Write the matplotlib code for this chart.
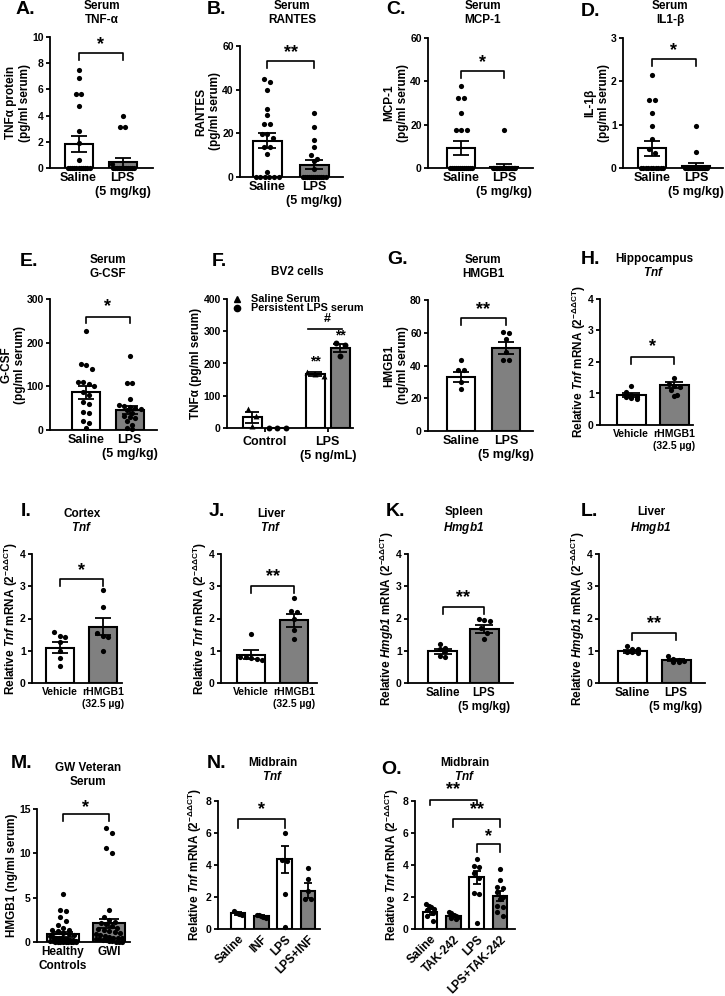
import numpy as np
import matplotlib
matplotlib.use('Agg')
import matplotlib.pyplot as plt

plt.rcParams.update({
    'font.family': ['Liberation Sans', 'DejaVu Sans'],
    'font.weight': 'bold',
    'axes.labelweight': 'bold',
    'mathtext.fontset': 'custom',
    'mathtext.rm': 'Liberation Sans:bold',
    'mathtext.it': 'Liberation Sans:italic:bold',
    # \mathbf is used for the italic gene names (keeps digits italic too)
    'mathtext.bf': 'Liberation Sans:italic:bold',
    'mathtext.sf': 'Liberation Sans:bold',
})

W, H = 725, 996
WHITE, GRAY = 'white', '#808080'

# ---- data ----
# A. serum TNF-alpha
tnfa_mean = [1.85, 0.45]
tnfa_sem = [0.63, 0.35]
tnfa_saline = [7.5, 6.85, 5.65, 5.65, 4.7, 2.8, 1.9, 0.6] + [0] * 11
tnfa_lps = [3.95, 3.15, 3.15, 0.3] + [0] * 12

# B. serum RANTES
rantes_mean = [16.6, 5.6]
rantes_sem = [3.4, 2.1]
rantes_saline = [44.7, 43.4, 39.7, 31.3, 28.2, 24.1, 24.1, 19.8, 19.8, 18.0,
                 13.7, 13.7, 10.4, 2.3] + [0] * 6
rantes_lps = [29.5, 22.9, 17.1, 13.7, 9.9, 8.4, 7.5, 3.8] + [0] * 12

# C. serum MCP-1
mcp_mean = [9.3, 0.6]
mcp_sem = [3.2, 1.1]
mcp_saline = [38, 32.3, 32.3, 25.4, 17.7, 17.7, 17.7] + [0] * 12
mcp_lps = [17.5] + [0] * 16

# D. serum IL-1beta
il1b_mean = [0.45, 0.05]
il1b_sem = [0.17, 0.07]
il1b_saline = [2.15, 1.56, 1.56, 1.27, 0.96, 0.68, 0.43, 0.35] + [0] * 10
il1b_lps = [0.96, 0.37] + [0] * 14

# E. serum G-CSF
gcsf_mean = [86, 46]
gcsf_sem = [14, 10]
gcsf_saline = [226, 151, 149, 140, 109, 109, 106, 100, 88, 80, 65, 60, 42, 38, 20, 15, 5]
gcsf_lps = [170, 108, 108, 72, 58, 55, 52, 50, 47, 45, 40, 32, 30, 28, 20, 12, 5, 3]

# F. BV2 cells TNF-alpha
bv2_groups = ['Control', 'LPS\n(5 ng/mL)']
bv2_sal_mean = [33, 168]
bv2_sal_sem = [17, 7]
bv2_lps_mean = [0, 248]
bv2_lps_sem = [0, 13]
bv2_sal_pts = [[58, 38, 5], [175, 168, 160]]
bv2_lps_pts = [[0, 0, 0], [265, 258, 224]]

# G. serum HMGB1
hmgb1_mean = [33, 50.5]
hmgb1_sem = [3.2, 3.7]
hmgb1_saline = [43.5, 37.5, 37, 30, 25.5]
hmgb1_lps = [60.5, 60, 56, 48, 43.5, 43.5]

# H. hippocampus Tnf
hip_mean = [0.95, 1.27]
hip_sem = [0.06, 0.11]
hip_vehicle = [1.25, 1.05, 0.95, 0.9, 0.88, 0.85, 0.82]
hip_rhmgb1 = [1.5, 1.3, 1.25, 1.2, 1.1, 0.95, 0.93]

# I. cortex Tnf
ctx_mean = [1.1, 1.75]
ctx_sem = [0.17, 0.26]
ctx_vehicle = [1.57, 1.45, 1.42, 1.28, 1.0, 0.76, 0.52]
ctx_rhmgb1 = [2.88, 2.37, 1.55, 1.45, 1.42, 1.0]

# J. liver Tnf
livt_mean = [0.88, 1.95]
livt_sem = [0.14, 0.2]
livt_vehicle = [1.52, 0.82, 0.8, 0.78, 0.75, 0.72]
livt_rhmgb1 = [2.63, 2.22, 2.2, 2.0, 1.65, 1.35]

# K. spleen Hmgb1
spl_mean = [0.98, 1.68]
spl_sem = [0.07, 0.12]
spl_saline = [1.22, 1.1, 1.06, 0.98, 0.83, 0.8]
spl_lps = [2.0, 1.95, 1.93, 1.7, 1.55, 1.35]

# L. liver Hmgb1
livh_mean = [0.98, 0.7]
livh_sem = [0.04, 0.03]
livh_saline = [1.15, 1.06, 1.04, 0.97, 0.95, 0.92]
livh_lps = [0.83, 0.73, 0.72, 0.68, 0.66, 0.64]

# M. GW veteran serum HMGB1
gw_mean = [0.85, 2.1]
gw_sem = [0.27, 0.55]
gw_healthy = [5.4, 3.6, 3.5, 2.8, 2.4, 1.9, 1.6, 1.4, 1.3, 1.2, 1.0, 0.9, 0.8, 0.7,
              0.6, 0.5, 0.45, 0.4, 0.3, 0.3, 0.2, 0.2, 0.15, 0.1, 0.1, 0.05, 0.05,
              0, 0, 0, 0, 0, 0, 0]
gw_gwi = [12.85, 12.3, 10.6, 10.05, 3.6, 2.8, 2.5, 2.3, 2.1, 2.0, 1.8, 1.6, 1.5, 1.3,
          1.2, 1.1, 1.0, 0.9, 0.8, 0.7, 0.6, 0.5, 0.5, 0.4, 0.3, 0.3, 0.2, 0.2,
          0.1, 0.1, 0.05, 0, 0]

# N. midbrain Tnf, infliximab
inf_groups = ['Saline', 'INF', 'LPS', 'LPS+INF']
inf_mean = [0.97, 0.8, 4.35, 2.4]
inf_sem = [0.07, 0.05, 0.85, 0.45]
inf_pts = [[1.14, 1.0, 0.95, 0.85],
           [0.9, 0.88, 0.8, 0.72, 0.7],
           [6.0, 4.3, 4.25, 2.2, 0.1],
           [3.8, 3.1, 2.4, 1.9, 1.85]]

# O. midbrain Tnf, TAK-242
tak_groups = ['Saline', 'TAK-242', 'LPS', 'LPS+TAK-242']
tak_mean = [1.05, 0.8, 3.22, 2.05]
tak_sem = [0.2, 0.08, 0.4, 0.3]
tak_pts = [[1.55, 1.45, 1.4, 1.25, 1.2, 1.0, 0.8, 0.5],
           [1.05, 1.0, 0.9, 0.85, 0.8, 0.75, 0.7, 0.6],
           [4.35, 3.95, 3.9, 3.5, 3.2, 2.25, 2.2, 0.35],
           [3.75, 3.05, 2.65, 2.55, 2.3, 2.0, 1.9, 1.45, 1.4, 1.05, 0.8]]

SAL_LPS = ['Saline', 'LPS\n(5 mg/kg)']
VEH_RH = ['Vehicle', 'rHMGB1\n(32.5 µg)']
SERUM = '(pg/ml serum)'
TNF_Q = r'Relative $\mathbf{Tnf}$ mRNA (2$^{\mathrm{-\Delta\Delta CT}}$)'
HMG_Q = r'Relative $\mathbf{Hmgb1}$ mRNA (2$^{\mathrm{-\Delta\Delta CT}}$)'

fig = plt.figure(figsize=(W / 100, H / 100), dpi=100)


def add_ax(box):
    l, t, r, b = box
    return fig.add_axes([l / W, 1 - b / H, (r - l) / W, (b - t) / H])


def swarm(vals, ppu, d, maxw):
    # spread points of similar value sideways, GraphPad style
    vals = np.asarray(vals, float)
    offs = np.zeros(len(vals))
    groups = []
    for i in np.argsort(-vals, kind='stable'):
        if groups and abs(vals[groups[-1][0]] - vals[i]) * ppu < d * 0.9:
            groups[-1].append(i)
        else:
            groups.append([i])
    for g in groups:
        n = len(g)
        step = d if n < 2 else min(d, maxw / (n - 1))
        for k, i in enumerate(g):
            offs[i] = (k - (n - 1) / 2) * step
    return offs


def style(ax, ymax, ystep):
    ax.set_ylim(0, ymax)
    ax.set_yticks(np.arange(0, ymax + ystep / 2, ystep))
    for s in ['top', 'right']:
        ax.spines[s].set_visible(False)
    for s in ['left', 'bottom']:
        ax.spines[s].set_linewidth(1.3)
    ax.tick_params(axis='y', length=3, width=1.3, labelsize=7.5, pad=1.5)


def bar_panel(box, c0, sp, bw, means, sems, pts, colors, labels, ymax, ystep,
              ylabel, brackets, xfs=9, rot=False, d=5.5, lfs=8.5, lpad=1):
    l, t, r, b = box
    ax = add_ax(box)
    x = np.arange(len(means))
    ax.set_xlim((l - c0) / sp, (r - c0) / sp)
    style(ax, ymax, ystep)
    ax.bar(x, means, width=bw / sp, color=colors, edgecolor='black', linewidth=1.5, zorder=2)
    ax.errorbar(x, means, yerr=sems, fmt='none', ecolor='black', elinewidth=1.3,
                capsize=bw * 0.3 * 0.72, capthick=1.3, zorder=4)
    ppu = (b - t) / ymax
    for xi, p in zip(x, pts):
        off = swarm(p, ppu, d, bw - 6)
        ax.scatter(xi + off / sp, p, s=14, c='black', linewidths=0, zorder=3, clip_on=False)
    ax.set_xticks(x)
    if rot:
        ax.set_xticklabels(labels, rotation=45, ha='right', rotation_mode='anchor', fontsize=xfs)
    else:
        ax.set_xticklabels(labels, fontsize=xfs)
    ax.tick_params(axis='x', length=0, pad=3)
    ax.set_ylabel(ylabel, fontsize=lfs, labelpad=lpad)
    for i, j, y, leg, txt, ty in brackets:
        ax.plot([i, i, j, j], [leg, y, y, leg], color='black', lw=1.2, clip_on=False)
        ax.text((i + j) / 2, ty, txt, ha='center', va='center', fontsize=13, clip_on=False)
    return ax


def letter(x, y, s):
    fig.text(x / W, 1 - y / H, s, fontsize=14, ha='left', va='center')


def title(x, y, s):
    fig.text(x / W, 1 - y / H, s, fontsize=8.5, ha='center', va='center',
             multialignment='center', linespacing=1.15)


WG = [WHITE, GRAY]

# row 1
bar_panel((50, 37, 153, 168), 78.5, 44, 28, tnfa_mean, tnfa_sem, [tnfa_saline, tnfa_lps], WG,
          SAL_LPS, 10, 2, 'TNFα protein\n' + SERUM, [(0, 1, 8.78, 8.25, '*', 9.45)])
letter(16, 9, 'A.'); title(102, 13, 'Serum\nTNF-α')

bar_panel((240, 46, 343, 177), 267, 47, 29, rantes_mean, rantes_sem, [rantes_saline, rantes_lps], WG,
          SAL_LPS, 60, 20, 'RANTES\n' + SERUM, [(0, 1, 53, 50, '**', 57)])
letter(207, 9, 'B.'); title(292, 13, 'Serum\nRANTES')

bar_panel((428, 38, 533, 168), 461, 43, 28, mcp_mean, mcp_sem, [mcp_saline, mcp_lps], WG,
          SAL_LPS, 60, 20, 'MCP-1\n' + SERUM, [(0, 1, 44.8, 41.5, '*', 48.5)])
letter(386, 9, 'C.'); title(483, 13, 'Serum\nMCP-1')

bar_panel((623, 38, 723, 168), 652, 44, 28, il1b_mean, il1b_sem, [il1b_saline, il1b_lps], WG,
          SAL_LPS, 3, 1, 'IL-1β\n' + SERUM, [(0, 1, 2.52, 2.35, '*', 2.72)])
letter(581, 12, 'D.'); title(670, 13, 'Serum\nIL1-β')

# row 2
bar_panel((50, 299, 157, 430), 86, 43.5, 28, gcsf_mean, gcsf_sem, [gcsf_saline, gcsf_lps], WG,
          SAL_LPS, 300, 100, 'G-CSF\n' + SERUM, [(0, 1, 259, 245, '*', 282)], lpad=0)
letter(20, 262, 'E.'); title(108, 267, 'Serum\nG-CSF')

# F: grouped bars with two serum types
l, t, r, b = 227, 299, 353, 428
axF = add_ax((l, t, r, b))
c0, sp, bw, dx = 264.75, 63, 19, 0.2
axF.set_xlim((l - c0) / sp, (r - c0) / sp)
style(axF, 400, 100)
g = np.arange(len(bv2_groups))
for shift, mean, sem, pts, col, mk in [(-dx, bv2_sal_mean, bv2_sal_sem, bv2_sal_pts, WHITE, '^'),
                                       (dx, bv2_lps_mean, bv2_lps_sem, bv2_lps_pts, GRAY, 'o')]:
    axF.bar(g + shift, mean, width=bw / sp, color=col, edgecolor='black', linewidth=1.5, zorder=2)
    axF.errorbar(g + shift, mean, yerr=sem, fmt='none', ecolor='black', elinewidth=1.3,
                 capsize=bw * 0.35 * 0.72, capthick=1.3, zorder=4)
    for gi, p in zip(g, pts):
        off = swarm(p, (b - t) / 400, 8.5, 18)
        axF.scatter(gi + shift + off / sp, p, s=18, marker=mk, c='black', linewidths=0,
                    zorder=3, clip_on=False)
axF.set_xticks(g)
axF.set_xticklabels(bv2_groups, fontsize=9)
axF.tick_params(axis='x', length=3, width=1.3, pad=3)
axF.set_ylabel('TNFα (pg/ml serum)', fontsize=8.5, labelpad=1)
axF.plot([1 - dx - 0.12, 1 + dx + 0.03], [307, 307], color='black', lw=1.2)
axF.text(1, 338, '#', ha='center', va='center', fontsize=9)
axF.text(1 - dx, 205, '**', ha='center', va='center', fontsize=10)
axF.text(1 + dx, 288, '**', ha='center', va='center', fontsize=10)
for yy, mk, txt in [(299, '^', 'Saline Serum'), (308, 'o', 'Persistent LPS serum')]:
    axF.plot([237 / W], [1 - yy / H], marker=mk, ms=4.5, color='black', ls='none',
             transform=fig.transFigure, clip_on=False)
    fig.text(251 / W, 1 - yy / H, txt, fontsize=7.8, ha='left', va='center')
letter(212, 262, 'F.'); title(297, 272, 'BV2 cells')

bar_panel((428, 300, 533, 431), 461, 45, 28, hmgb1_mean, hmgb1_sem, [hmgb1_saline, hmgb1_lps], WG,
          SAL_LPS, 80, 20, 'HMGB1\n(ng/ml serum)', [(0, 1, 69, 64.7, '**', 74)])
letter(387, 260, 'G.'); title(483, 267, 'Serum\nHMGB1')

bar_panel((600, 299, 693, 425), 631, 43, 29, hip_mean, hip_sem, [hip_vehicle, hip_rhmgb1], WG,
          VEH_RH, 4, 1, TNF_Q, [(0, 1, 2.16, 1.94, '*', 2.48)], xfs=7.5, lpad=0)
letter(581, 260, 'H.'); title(654, 266, 'Hippocampus\n$\\mathbf{Tnf}$')

# row 3
bar_panel((32, 554, 122, 683), 60, 43, 28, ctx_mean, ctx_sem, [ctx_vehicle, ctx_rhmgb1], WG,
          VEH_RH, 4, 1, TNF_Q, [(0, 1, 3.22, 3.0, '*', 3.5)], xfs=7.5, lpad=0)
letter(21, 512, 'I.'); title(82, 521, 'Cortex\n$\\mathbf{Tnf}$')

bar_panel((221, 554, 317, 683), 251, 43, 28, livt_mean, livt_sem, [livt_vehicle, livt_rhmgb1], WG,
          VEH_RH, 4, 1, TNF_Q, [(0, 1, 3.0, 2.8, '**', 3.29)], xfs=7.5, lpad=0)
letter(209, 512, 'J.'); title(271, 521, 'Liver\n$\\mathbf{Tnf}$')

bar_panel((408, 554, 513, 683), 442.5, 41.5, 29, spl_mean, spl_sem, [spl_saline, spl_lps], WG,
          SAL_LPS, 4, 1, HMG_Q, [(0, 1, 2.36, 2.14, '**', 2.64)], xfs=8.4, lpad=0)
letter(386, 512, 'K.'); title(464, 521, 'Spleen\n$\\mathbf{Hmgb1}$')

bar_panel((599, 554, 705, 683), 632, 44, 29, livh_mean, livh_sem, [livh_saline, livh_lps], WG,
          SAL_LPS, 4, 1, HMG_Q, [(0, 1, 1.55, 1.33, '**', 1.83)], xfs=8.6, lpad=0)
letter(581, 512, 'L.'); title(651, 521, 'Liver\n$\\mathbf{Hmgb1}$')

# row 4
bar_panel((37, 809, 130, 942), 63, 46, 32, gw_mean, gw_sem, [gw_healthy, gw_gwi], WG,
          ['Healthy\nControls', 'GWI'], 15, 5, 'HMGB1 (ng/ml serum)',
          [(0, 1, 14.4, 13.6, '*', 15.2)], xfs=8.5)
letter(11, 763, 'M.'); title(88, 775, 'GW Veteran\nSerum')

bar_panel((218, 801, 320, 929), 238, 23.3, 14.5, inf_mean, inf_sem, inf_pts, WG * 2,
          inf_groups, 8, 2, TNF_Q, [(0, 2, 6.85, 6.3, '*', 7.45)], xfs=8.5, rot=True)
letter(207, 763, 'N.'); title(273, 770, 'Midbrain\n$\\mathbf{Tnf}$')

bar_panel((415, 801, 515, 929), 430, 23.3, 14.5, tak_mean, tak_sem, tak_pts, WG * 2,
          tak_groups, 8, 2, TNF_Q,
          [(0, 2, 8.05, 7.75, '**', 8.7), (1, 3, 6.87, 6.4, '**', 7.45), (2, 3, 5.3, 4.8, '*', 5.8)],
          xfs=8.5, rot=True)
letter(381, 770, 'O.'); title(465, 770, 'Midbrain\n$\\mathbf{Tnf}$')

fig.savefig('out.png', dpi=100, facecolor='white')
